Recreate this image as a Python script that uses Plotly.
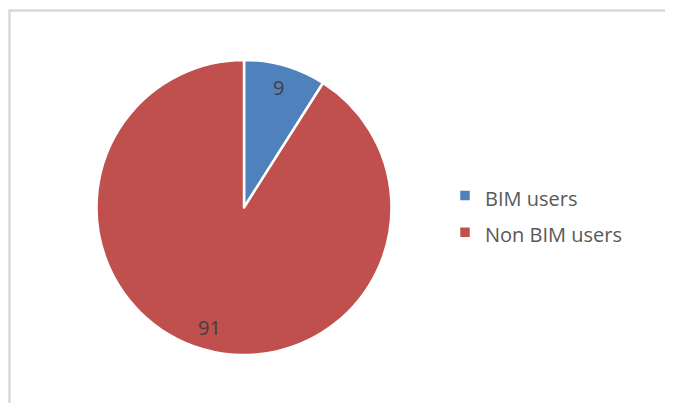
import math
import plotly.graph_objects as go

labels = ["BIM users", "Non BIM users"]
values = [9, 91]
colors = ["#4F81BD", "#C0504D"]

W, H = 673, 403
# pie geometry in plot pixels
cx, cy, r = 236, 199.5, 147.5
LABEL_K = 0.85

fig = go.Figure(go.Pie(
    labels=[f"<span style='font-size:20px'>{l}</span>" for l in labels],
    values=values,
    sort=False,
    direction="clockwise",
    rotation=0,
    marker=dict(colors=colors, line=dict(color="white", width=2.5)),
    textinfo="none",
    domain=dict(x=[(cx - r) / W, (cx + r) / W], y=[1 - (cy + r) / H, 1 - (cy - r) / H]),
    hoverinfo="skip",
))

# data labels placed along each slice's mid-angle
annotations = []
total = sum(values)
start = 0.0
for v in values:
    mid = (start + v / 2) / total * 2 * math.pi
    start += v
    px = cx + LABEL_K * r * math.sin(mid)
    py = cy - LABEL_K * r * math.cos(mid)
    annotations.append(dict(
        x=px / W, y=1 - py / H, xref="paper", yref="paper",
        text=str(v), showarrow=False,
        font=dict(family="Open Sans", size=20, color="#404040"),
        xanchor="center", yanchor="middle",
    ))

fig.update_layout(
    width=W, height=H,
    margin=dict(l=0, r=0, t=0, b=0),
    paper_bgcolor="white",
    plot_bgcolor="white",
    showlegend=True,
    legend=dict(
        x=437 / W, y=1 - 206 / H, xanchor="left", yanchor="middle",
        font=dict(family="Open Sans", size=26, color="#595959"),
        bgcolor="rgba(0,0,0,0)",
    ),
    annotations=annotations,
    shapes=[dict(
        type="rect", xref="paper", yref="paper",
        x0=1.5 / W, x1=1.02, y0=-0.05, y1=1 - 2.5 / H,
        line=dict(color="#D9D9D9", width=2.5), fillcolor="rgba(0,0,0,0)",
        layer="below",
    )],
)

fig.write_html("out.html")
